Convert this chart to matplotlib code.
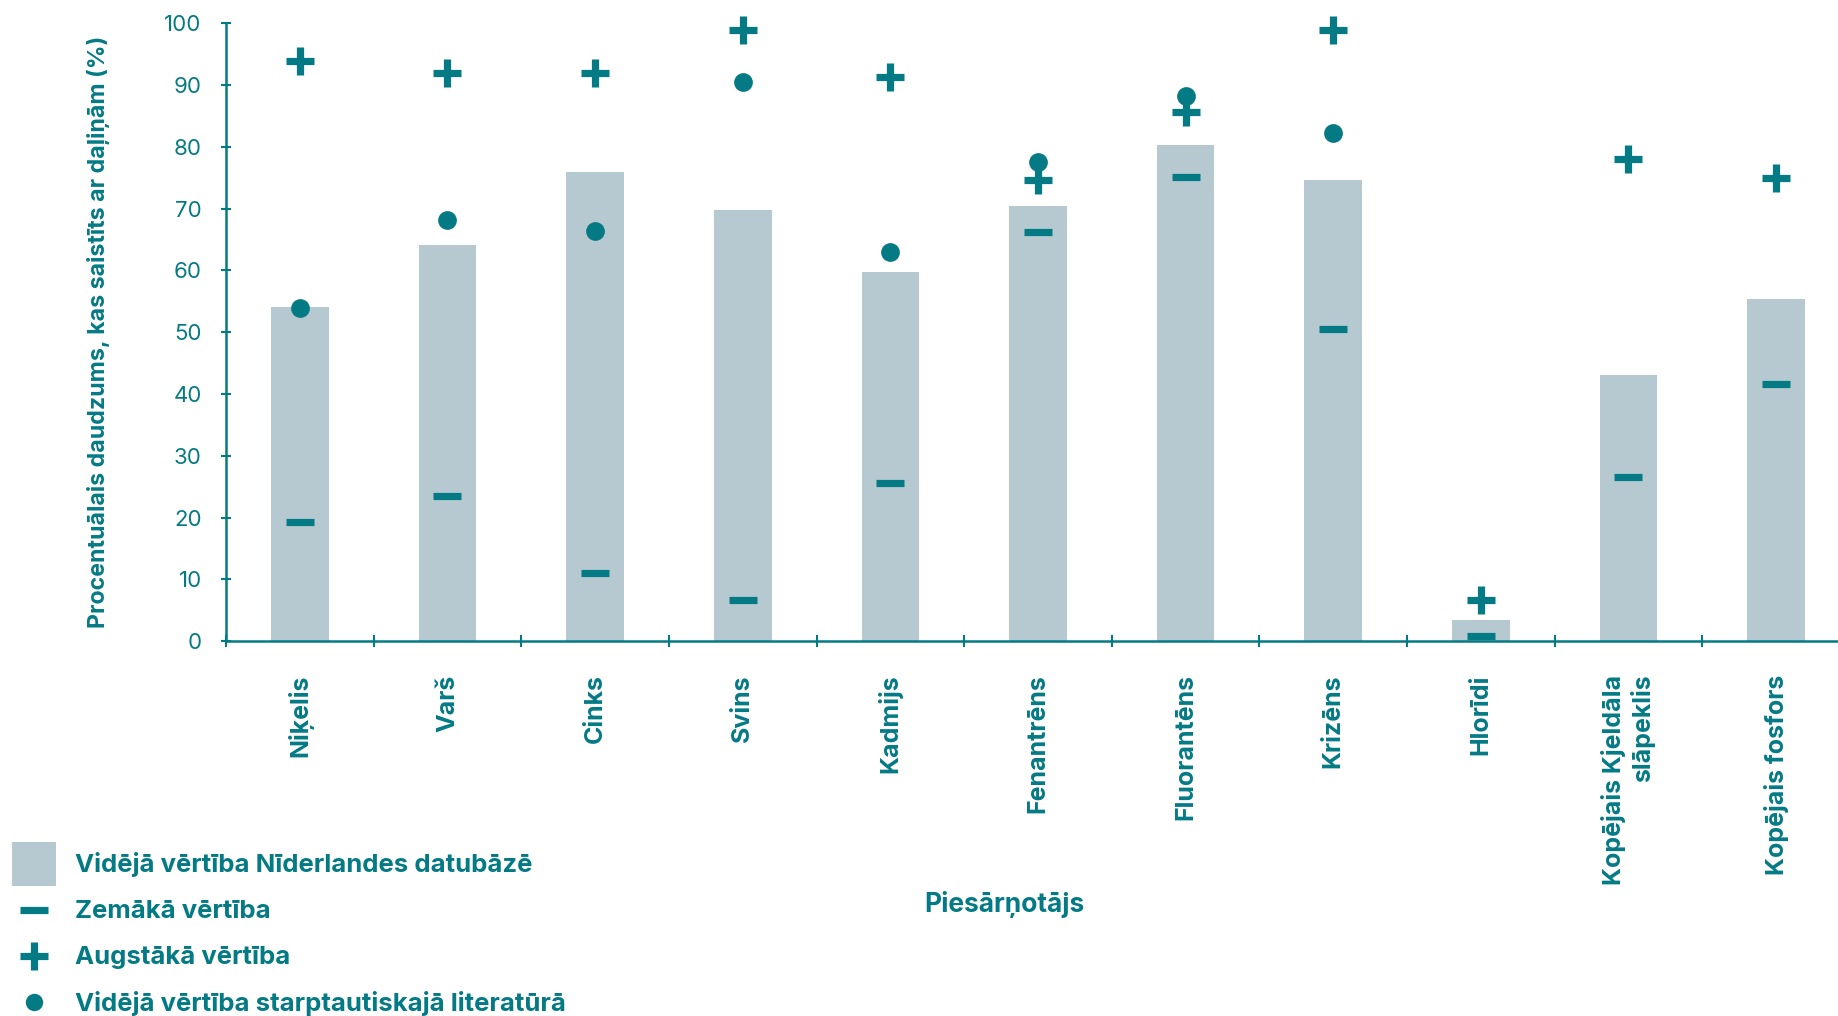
import numpy as np
import matplotlib.pyplot as plt
from matplotlib.patches import Patch
from matplotlib.lines import Line2D
from matplotlib.legend_handler import HandlerLine2D

plt.rcParams['font.family'] = ['Inter', 'DejaVu Sans']

teal = '#047a85'
grey = '#b6c9d0'

# piesārņotāji
kategorijas = ['Niķelis', 'Varš', 'Cinks', 'Svins', 'Kadmijs', 'Fenantrēns',
               'Fluorantēns', 'Krizēns', 'Hlorīdi', 'Kopējais Kjeldāla\nslāpeklis',
               'Kopējais fosfors']
videja_nl = [54.1, 64.1, 75.9, 69.8, 59.8, 70.4, 80.3, 74.6, 3.4, 43.1, 55.4]
zemaka = [19.2, 23.5, 11.0, 6.6, 25.6, 66.2, 75.1, 50.5, 0.9, 26.6, 41.7]
augstaka = [93.9, 92.0, 92.0, 98.9, 91.3, 74.6, 85.6, 98.9, 6.6, 78.0, 75.0]
# starptautiskā literatūra (pēdējiem trim nav)
videja_lit = [53.9, 68.1, 66.4, 90.5, 63.0, 77.6, 88.2, 82.2, np.nan, np.nan, np.nan]


# leģendas marķieri nedaudz zemāk, lai sakristu ar tekstu
class ZemakLinija(HandlerLine2D):
    def create_artists(self, legend, orig_handle, xdescent, ydescent, width, height, fontsize, trans):
        arts = super().create_artists(legend, orig_handle, xdescent, ydescent, width, height, fontsize, trans)
        for a in arts:
            a.set_ydata(np.asarray(a.get_ydata()) - 4.5)
        return arts


x = np.arange(len(kategorijas))

fig = plt.figure(figsize=(18.38, 10.16), dpi=100)
ax = fig.add_axes([0.123, 0.369, 0.877, 0.608])

ax.bar(x, videja_nl, width=0.39, color=grey, zorder=1)
ax.plot(x, zemaka, ls='none', marker='_', ms=19.5, mew=5.2, color=teal, zorder=3, clip_on=False)
ax.plot(x, augstaka, ls='none', marker='+', ms=19.5, mew=5.2, color=teal, zorder=3, clip_on=False)
ax.plot(x, videja_lit, ls='none', marker='o', ms=13.5, mew=0, color=teal, zorder=4, clip_on=False)

ax.set_xlim(-0.5, 10.42)
ax.set_ylim(0, 100)
ax.set_yticks(np.arange(0, 101, 10))

for s in ['top', 'right']:
    ax.spines[s].set_visible(False)
for s in ['left', 'bottom']:
    ax.spines[s].set_color(teal)
    ax.spines[s].set_linewidth(1.8)

ax.tick_params(axis='y', colors=teal, labelsize=16, direction='inout', length=7, width=1.5, pad=14)
ax.set_xticks(x)
ax.set_xticklabels(kategorijas, rotation=90, ha='center', va='top', multialignment='right',
                   fontsize=18, fontweight='bold', color=teal)
ax.tick_params(axis='x', which='major', length=0, pad=24)
ax.set_xticks(np.arange(-0.5, 10, 1), minor=True)
ax.tick_params(axis='x', which='minor', colors=teal, direction='inout', length=9, width=1.5)

ax.set_ylabel('Procentuālais daudzums, kas saistīts ar daļiņām (%)', fontsize=16.7,
              fontweight='bold', color=teal)
ax.yaxis.set_label_coords(-0.072, 0.5)
ax.set_xlabel('Piesārņotājs', fontsize=19, fontweight='bold', color=teal)
ax.xaxis.set_label_coords(0.483, -0.405)

handles = [Patch(facecolor=grey, edgecolor='none'),
           Line2D([], [], ls='none', marker='_', ms=19.5, mew=5.2, color=teal),
           Line2D([], [], ls='none', marker='+', ms=19.5, mew=5.2, color=teal),
           Line2D([], [], ls='none', marker='o', ms=12.5, mew=0, color=teal)]
labels = ['Vidējā vērtība Nīderlandes datubāzē', 'Zemākā vērtība',
          'Augstākā vērtība', 'Vidējā vērtība starptautiskajā literatūrā']
leg = fig.legend(handles, labels, loc='upper left', bbox_to_anchor=(0.0065, 0.171),
                 frameon=False, borderpad=0, borderaxespad=0, handlelength=1.71, handleheight=2.26,
                 handletextpad=0.74, labelspacing=0.08, prop={'size': 18.5, 'weight': 'bold'},
                 handler_map={Line2D: ZemakLinija()})
for t in leg.get_texts():
    t.set_color(teal)

fig.savefig('out.png', dpi=100)
